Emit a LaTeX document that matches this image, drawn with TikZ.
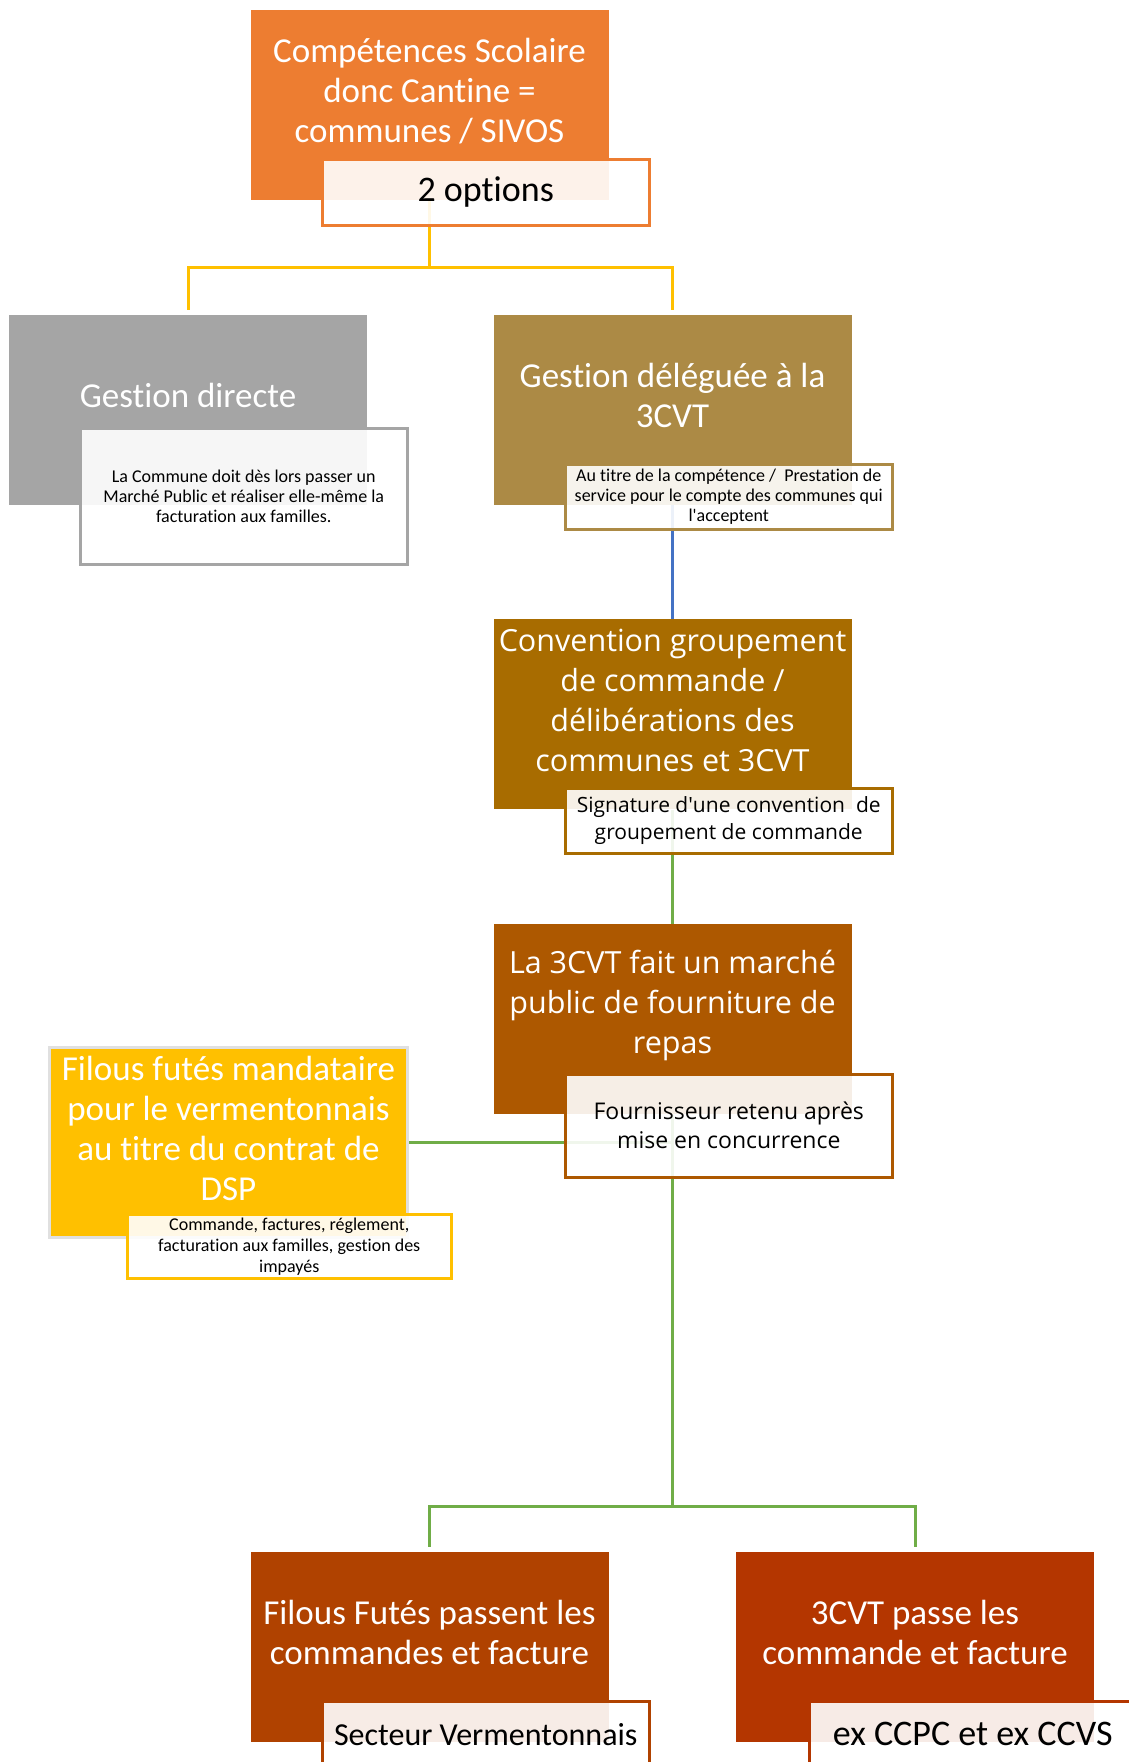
\documentclass[tikz,border=0pt]{standalone}
\usepackage{fontspec}
\setmainfont{Carlito}[Ligatures={TeX,NoCommon}]
\newfontfamily\opensans{Open Sans}
\usetikzlibrary{positioning}

\definecolor{topcol}{HTML}{ED7D31}
\definecolor{directcol}{HTML}{A5A5A5}
\definecolor{delegcol}{HTML}{AC8A45}
\definecolor{convcol}{HTML}{A86C00}
\definecolor{marchecol}{HTML}{AD5800}
\definecolor{filouscol}{HTML}{FFC000}
\definecolor{vermcol}{HTML}{B04200}
\definecolor{ccvscol}{HTML}{B43600}
\definecolor{linkyellow}{HTML}{FFC000}
\definecolor{linkblue}{HTML}{4472C4}
\definecolor{linkgreen}{HTML}{70AD47}

\newcommand{\bigtext}{\fontsize{35pt}{40pt}\selectfont}
\newcommand{\widetext}{\opensans\fontsize{30.5pt}{40pt}\selectfont}
\newcommand{\tinytext}{\fontsize{18pt}{20pt}\selectfont}

\begin{document}
\begin{tikzpicture}[x=1pt, y=-1pt, node distance=114.5pt and 0pt]
    \tikzset{
        block/.style = {rectangle, inner sep=0pt, minimum width=358pt, minimum height=190pt},
        blocktext/.style = {text=white, align=center, yshift=14pt, font=\bigtext},
        note/.style = {rectangle, draw, line width=2.5pt, fill=white, fill opacity=0.9, text opacity=1, text=black, align=center, anchor=north west, inner sep=0pt, minimum width=327pt},
        link/.style = {draw, line width=3pt}
    }
    \useasboundingbox (0,0) rectangle (1129,1762);
    \clip (0,0) rectangle (1129,1762);
    \fill[white] (0,0) rectangle (1129,1762);

    \node[block, fill=topcol, label={[blocktext]center:{Compétences Scolaire\\donc Cantine =\\communes / SIVOS}}] (top) at (429.5,105) {};
    \node[block, fill=directcol, label={[blocktext]center:Gestion directe}] (direct) at (188,409.5) {};
    \node[block, fill=delegcol, label={[blocktext]center:{Gestion déléguée à la\\3CVT}}] (deleg) at (672.5,409.5) {};
    \node[block, fill=convcol, below=of deleg, label={[blocktext, font=\widetext]center:{Convention groupement\\de commande /\\délibérations des\\communes et 3CVT}}] (conv) {};
    \node[block, fill=marchecol, below=of conv, label={[blocktext, font=\widetext]center:{La 3CVT fait un marché\\public de fourniture de\\repas}}] (marche) {};
    \node[block, fill=filouscol, draw=black!12, line width=3pt, label={[blocktext]center:{Filous futés mandataire\\pour le vermentonnais\\au titre du contrat de\\DSP}}] (filous) at (228.5,1142.5) {};
    \node[block, fill=vermcol, label={[blocktext]center:{Filous Futés passent les\\commandes et facture}}] (verm) at (429.5,1646.5) {};
    \node[block, fill=ccvscol, label={[blocktext]center:{3CVT passe les\\commande et facture}}] (ccvs) at (915,1646.5) {};

    \path[link, draw=linkyellow, shorten >=4pt] (top.south) -- ++(0,67) -| (direct.north);
    \path[link, draw=linkyellow, shorten >=4pt] (top.south) -- ++(0,67) -| (deleg.north);
    \path[link, draw=linkblue] (deleg.south) -- (conv.north);
    \path[link, draw=linkgreen] (conv.south) -- (marche.north);
    \path[link, draw=linkgreen] (filous.east) -- (filous.east -| marche.south);
    \path[link, draw=linkgreen, shorten >=4pt] (marche.south) -- ++(0,392) -| (verm.north);
    \path[link, draw=linkgreen, shorten >=4pt] (marche.south) -- ++(0,392) -| (ccvs.north);

    \node[note, draw=topcol, minimum height=66pt, font=\fontsize{36pt}{40pt}\selectfont] (opts) at (321,158) {2 options};
    \node[note, draw=directcol, minimum height=136pt, font=\tinytext] (directnote) at (79,427) {La Commune doit dès lors passer un\\Marché Public et réaliser elle-même la\\facturation aux familles.};
    \node[note, draw=delegcol, minimum height=65pt, font=\tinytext] (delegnote) at (564,463) {Au titre de la compétence /\ \ Prestation de\\service pour le compte des communes qui\\l\textquotesingle acceptent};
    \node[note, draw=convcol, minimum height=65pt, font=\opensans\fontsize{21pt}{27pt}\selectfont] (convnote) at (564,787) {Signature d\textquotesingle une convention\ \ de\\groupement de commande};
    \node[note, draw=marchecol, minimum height=103pt, font=\opensans\fontsize{23pt}{29pt}\selectfont] (marchenote) at (564,1073) {Fournisseur retenu après\\mise en concurrence};
    \node[note, draw=filouscol, minimum width=324pt, minimum height=64pt, font=\fontsize{18pt}{21pt}\selectfont] (filousnote) at (126,1213) {Commande, factures, réglement,\\facturation aux familles, gestion des\\impayés};
    \node[note, draw=vermcol, minimum height=66pt, font=\fontsize{32pt}{40pt}\selectfont] (vermnote) at (321,1700) {Secteur Vermentonnais};
    \node[note, draw=ccvscol, minimum height=66pt, font=\fontsize{36pt}{40pt}\selectfont] (ccvsnote) at (808,1700) {ex CCPC et ex CCVS};
\end{tikzpicture}
\end{document}
